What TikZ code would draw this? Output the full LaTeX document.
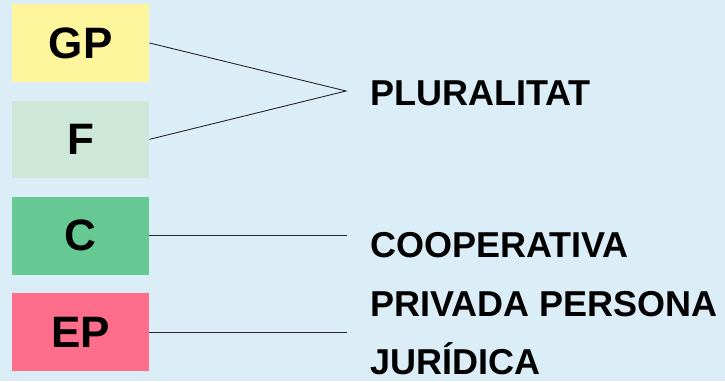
\documentclass[tikz,border=0pt]{standalone}
\usepackage{fontspec}
\setmainfont{Liberation Sans}
\usepackage{tikz}
\definecolor{bgblue}{HTML}{DBEEF7}
\definecolor{gpyellow}{HTML}{FFF59D}
\definecolor{fgreen}{HTML}{CDE7D8}
\definecolor{cgreen}{HTML}{66C892}
\definecolor{eppink}{HTML}{FE6E8B}
\tikzset{
entity/.style={minimum width=137pt, minimum height=77.5pt, inner sep=0pt,
  font=\fontsize{44}{44}\selectfont\bfseries},
kind/.style={anchor=base west, inner sep=0pt, align=left,
  font=\fontsize{36}{58}\selectfont\bfseries},
link/.style={draw=black!85, line width=0.9pt}
}
\usetikzlibrary{positioning}

\begin{document}
\begin{tikzpicture}[x=1pt, y=-1pt, node distance=18.5pt]
			\fill[bgblue] (0,0) rectangle (725,381);
			\useasboundingbox (0,0) rectangle (725,381);
			\node[entity, fill=gpyellow, anchor=north west] (GP) at (12,4) {GP};
			\node[entity, fill=fgreen, below = of GP] (F) {F};
			\node[entity, fill=cgreen, below = of F] (C) {C};
			\node[entity, fill=eppink, below = of C] (EP) {EP};
			\coordinate (join) at (346,91);
			\coordinate (ends) at (347,0);
			\node[kind] (plur) at (370,105) {PLURALITAT};
			\node[kind] (coop) at (370,257) {COOPERATIVA};
			% base of the last line
			\node[kind] (priv) at (370,374.5) {PRIVADA PERSONA\\JURÍDICA};
			% ----
			\path[link] (GP.east) -- (join) -- (F.east);
			\path[link] (C.east) -- (C.east -| ends);
			\path[link] (EP.east) -- (EP.east -| ends);
		\end{tikzpicture}
\end{document}
